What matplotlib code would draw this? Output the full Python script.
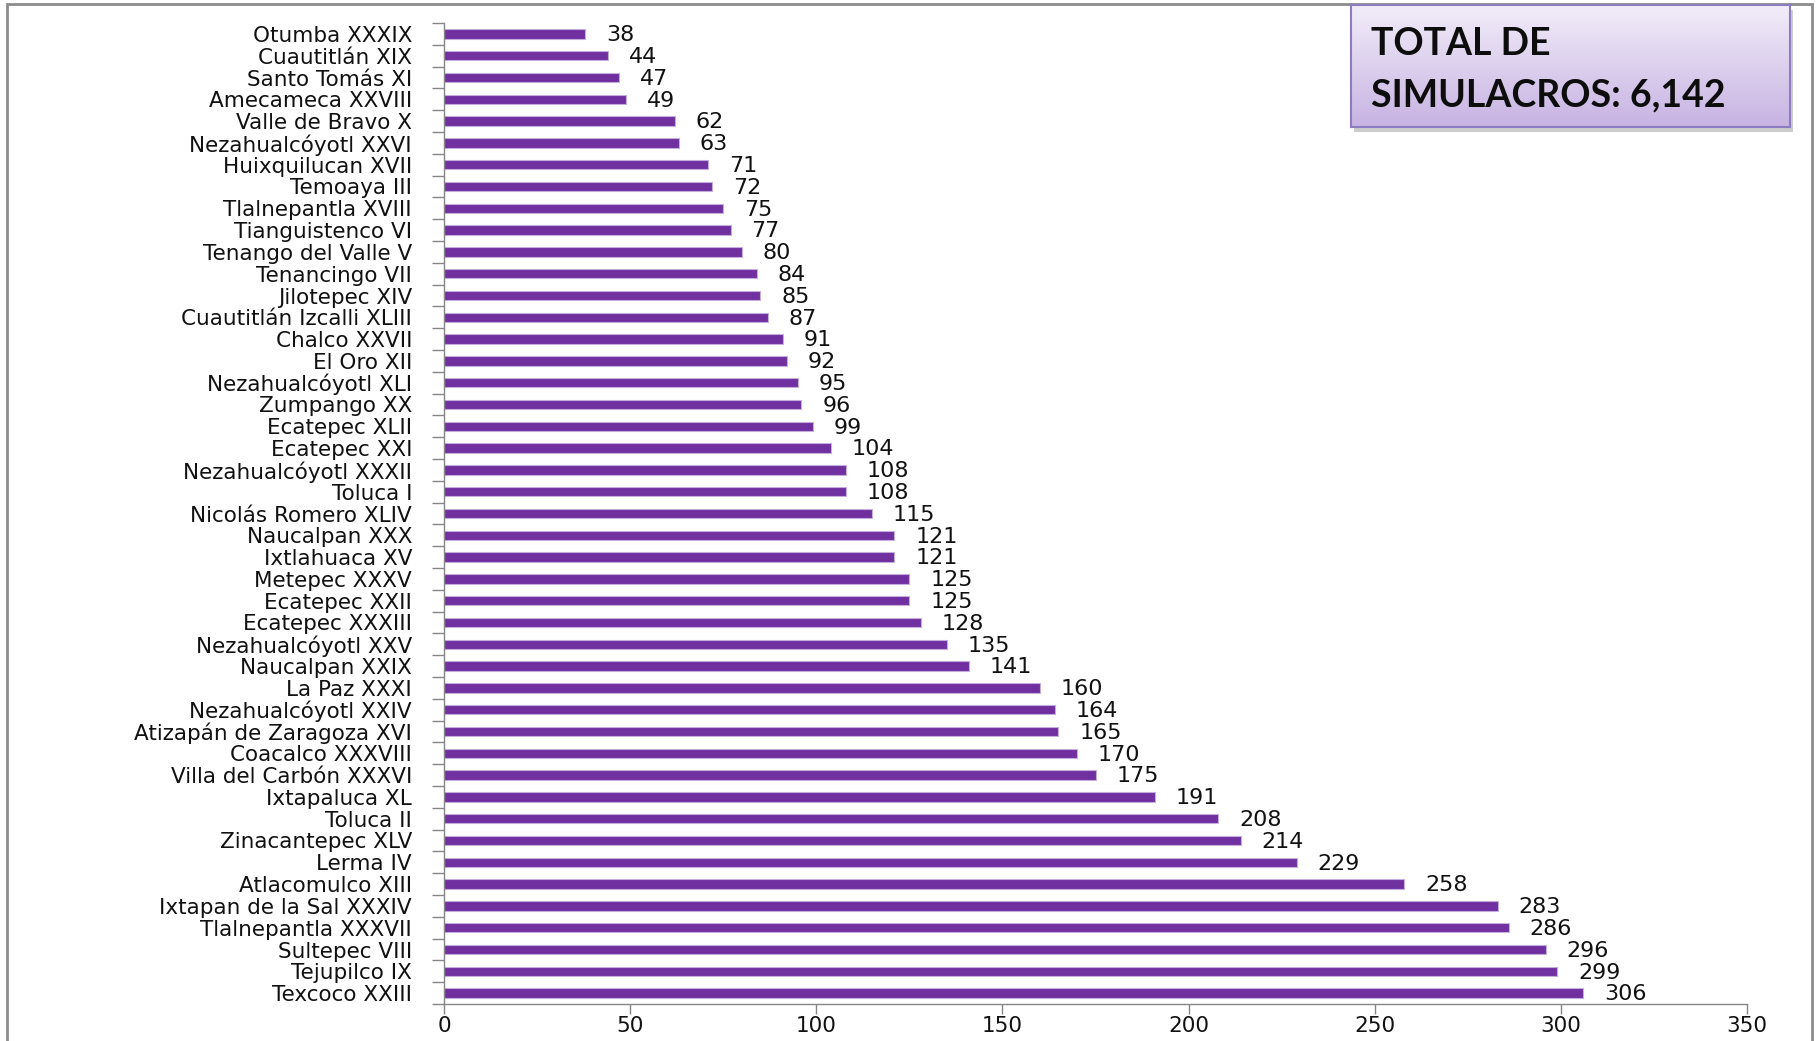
import numpy as np
import matplotlib
matplotlib.use("Agg")
import matplotlib.pyplot as plt
from matplotlib.patches import Rectangle
from matplotlib.ticker import FixedLocator

categories = [
    "Otumba XXXIX", "Cuautitlán XIX", "Santo Tomás XI", "Amecameca XXVIII",
    "Valle de Bravo X", "Nezahualcóyotl XXVI", "Huixquilucan XVII", "Temoaya III",
    "Tlalnepantla XVIII", "Tianguistenco VI", "Tenango del Valle V", "Tenancingo VII",
    "Jilotepec XIV", "Cuautitlán Izcalli XLIII", "Chalco XXVII", "El Oro XII",
    "Nezahualcóyotl XLI", "Zumpango XX", "Ecatepec XLII", "Ecatepec XXI",
    "Nezahualcóyotl XXXII", "Toluca I", "Nicolás Romero XLIV", "Naucalpan XXX",
    "Ixtlahuaca XV", "Metepec XXXV", "Ecatepec XXII", "Ecatepec XXXIII",
    "Nezahualcóyotl XXV", "Naucalpan XXIX", "La Paz XXXI", "Nezahualcóyotl XXIV",
    "Atizapán de Zaragoza XVI", "Coacalco XXXVIII", "Villa del Carbón XXXVI",
    "Ixtapaluca XL", "Toluca II", "Zinacantepec XLV", "Lerma IV", "Atlacomulco XIII",
    "Ixtapan de la Sal XXXIV", "Tlalnepantla XXXVII", "Sultepec VIII", "Tejupilco IX",
    "Texcoco XXIII",
]
values = [38, 44, 47, 49, 62, 63, 71, 72, 75, 77, 80, 84, 85, 87, 91, 92, 95, 96, 99,
          104, 108, 108, 115, 121, 121, 125, 125, 128, 135, 141, 160, 164, 165, 170,
          175, 191, 208, 214, 229, 258, 283, 286, 296, 299, 306]
x_ticks = [0, 50, 100, 150, 200, 250, 300, 350]
total_text = "TOTAL DE\nSIMULACROS: 6,142"

W, H = 1819, 1041
fig = plt.figure(figsize=(W / 100, H / 100), dpi=100)
fig.patch.set_facecolor("white")

# outer frame
fig.patches.append(Rectangle((7 / W, -0.02), (1812 - 7) / W, 1.02 - 4 / H,
                             transform=fig.transFigure, fill=False,
                             edgecolor="#8c8c8c", linewidth=2))

ax = fig.add_axes([444 / W, 1 - 1004 / H, 1303 / W, 981 / H])
n = len(categories)
ypos = np.arange(n)[::-1]  # first category at top
ax.barh(ypos, values, height=0.43, color="#7030a0", edgecolor="#c4aede", linewidth=0.8)

for y, v in zip(ypos, values):
    ax.annotate(str(v), (v, y), xytext=(15, -1), textcoords="offset points",
                va="center", ha="left", fontsize=16, color="#111111")

ax.set_xlim(0, 350)
ax.set_ylim(-0.5, n - 0.5)
ax.set_yticks(ypos)
ax.set_yticklabels(categories, fontsize=15.5, color="#111111")
ax.yaxis.set_minor_locator(FixedLocator(np.arange(-0.5, n, 1.0)))
ax.tick_params(axis="y", which="major", length=0, pad=23)
ax.tick_params(axis="y", which="minor", length=9, width=1, color="#868686", direction="out")
ax.set_xticks(x_ticks)
ax.set_xticklabels([str(t) for t in x_ticks], fontsize=15.5, color="#111111")
ax.tick_params(axis="x", length=7, width=1, color="#868686", direction="out", pad=2)

for s in ["top", "right"]:
    ax.spines[s].set_visible(False)
for s in ["left", "bottom"]:
    ax.spines[s].set_color("#868686")
    ax.spines[s].set_linewidth(1)

# total box with gradient and shadow
bx0, bx1, by0, by1 = 1351, 1790, 5, 127
fig.patches.append(Rectangle(((bx0 + 3) / W, 1 - (by1 + 5) / H), (bx1 - bx0) / W, (by1 - by0) / H,
                             transform=fig.transFigure, facecolor="#9a9a9a",
                             edgecolor="none", alpha=0.5, zorder=5))
bax = fig.add_axes([bx0 / W, 1 - by1 / H, (bx1 - bx0) / W, (by1 - by0) / H], zorder=6)
c_top = np.array(matplotlib.colors.to_rgb("#f2edf9"))
c_bot = np.array(matplotlib.colors.to_rgb("#c7b3e2"))
t = np.linspace(0, 1, 256)[:, None]
grad = (c_top[None, :] * (1 - t) + c_bot[None, :] * t)[:, None, :]
bax.imshow(grad, aspect="auto", extent=[0, 1, 0, 1], origin="upper")
bax.set_xlim(0, 1)
bax.set_ylim(0, 1)
bax.set_xticks([])
bax.set_yticks([])
for s in bax.spines.values():
    s.set_color("#8e7cc3")
    s.set_linewidth(1.5)
bax.text(20 / (bx1 - bx0), 0.47, total_text, transform=bax.transAxes, ha="left", va="center",
         fontsize=27, fontweight="bold", family=["Lato", "DejaVu Sans"], color="#0d0d0d",
         linespacing=1.6)

fig.savefig("out.png", dpi=100, facecolor="white")
